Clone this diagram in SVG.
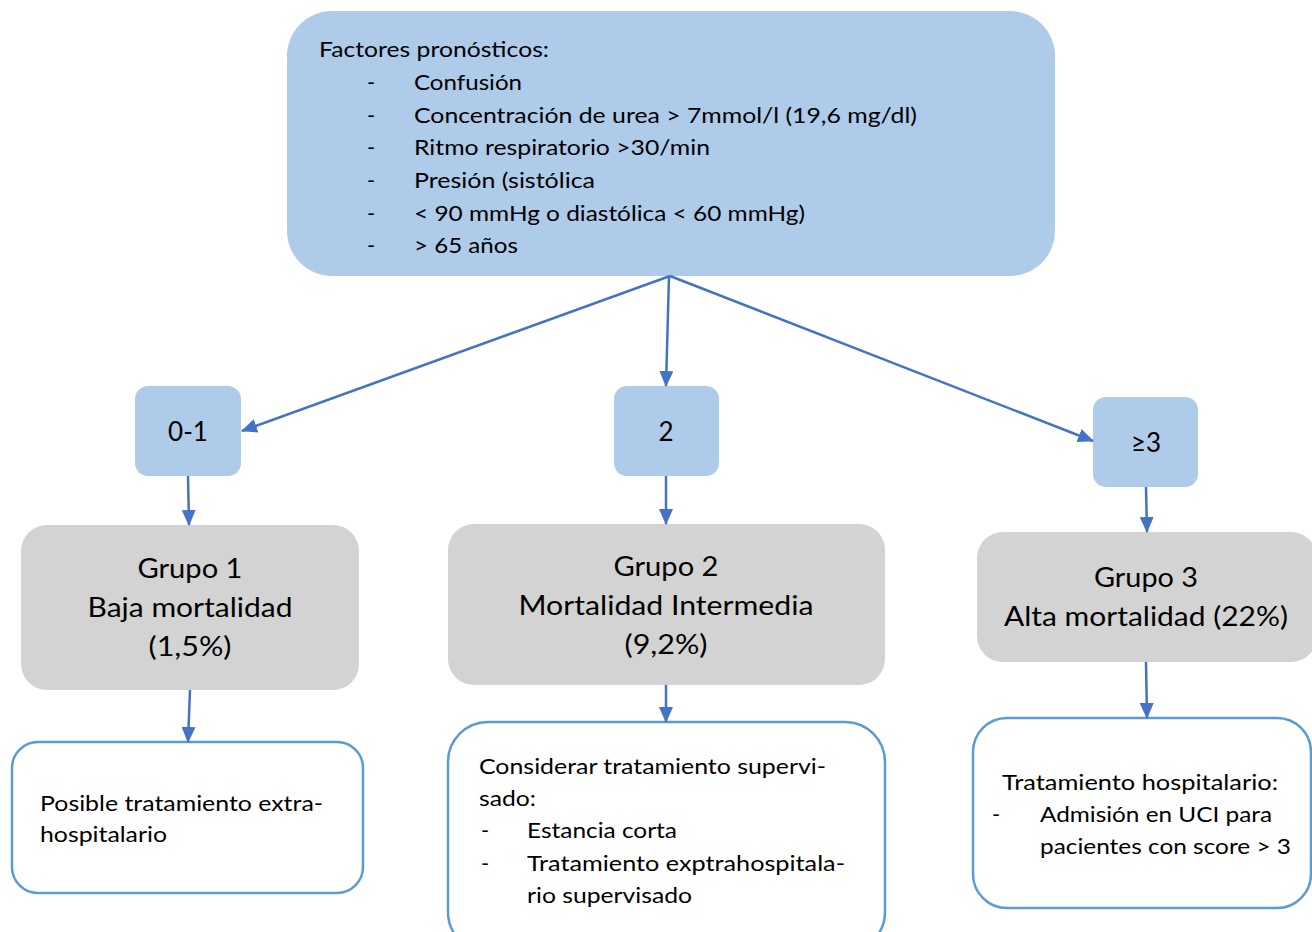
<svg xmlns="http://www.w3.org/2000/svg" width="1312" height="932" viewBox="0 0 1312 932">
  <style>
    text { font-family: Lato, "Liberation Sans", sans-serif; fill: #000; }
    .blue { fill: #aecbe9; }
    .grey { fill: #d3d3d3; }
    .outline { fill: #ffffff; stroke: #5b9bd5; stroke-width: 2.5; }
    .head { font-size: 22px; }
    .num { font-size: 26px; text-anchor: middle; }
    .grp { font-size: 27px; text-anchor: middle; }
    .body { font-size: 22px; }
    .edge { fill: none; stroke: #4472c4; stroke-width: 2.5; marker-end: url(#arrow); }
  </style>
  <defs>
    <marker id="arrow" markerUnits="userSpaceOnUse" markerWidth="16" markerHeight="14" refX="15" refY="7" orient="auto">
      <path d="M0,0 L16,7 L0,14 Z" fill="#4472c4"/>
    </marker>
  </defs>

  <rect width="1312" height="932" fill="#ffffff"/>

  <!-- prognostic factors -->
  <g id="factores">
    <rect class="blue" x="287" y="11" width="768" height="265" rx="45" ry="45"/>
    <text class="head" x="319" y="57" textLength="230" lengthAdjust="spacingAndGlyphs">Factores pronósticos:</text>
    <g class="head">
      <text x="367" y="90">-</text>
      <text x="367" y="123">-</text>
      <text x="367" y="155">-</text>
      <text x="367" y="188">-</text>
      <text x="367" y="221">-</text>
      <text x="367" y="253">-</text>
      <text x="414" y="90" textLength="108" lengthAdjust="spacingAndGlyphs">Confusión</text>
      <text x="414" y="123" textLength="503" lengthAdjust="spacingAndGlyphs">Concentración de urea &gt; 7mmol/l (19,6 mg/dl)</text>
      <text x="414" y="155" textLength="296" lengthAdjust="spacingAndGlyphs">Ritmo respiratorio &gt;30/min</text>
      <text x="414" y="188" textLength="181" lengthAdjust="spacingAndGlyphs">Presión (sistólica</text>
      <text x="414" y="221" textLength="391" lengthAdjust="spacingAndGlyphs">&lt; 90 mmHg o diastólica &lt; 60 mmHg)</text>
      <text x="414" y="253" textLength="104" lengthAdjust="spacingAndGlyphs">&gt; 65 años</text>
    </g>
  </g>

  <!-- score boxes -->
  <g id="score-0-1">
    <rect class="blue" x="135" y="386" width="106" height="90" rx="13" ry="13"/>
    <text class="num" x="188" y="441">0-1</text>
  </g>
  <g id="score-2">
    <rect class="blue" x="614" y="386" width="105" height="90" rx="13" ry="13"/>
    <text class="num" x="666" y="441">2</text>
  </g>
  <g id="score-3">
    <rect class="blue" x="1093" y="397" width="105" height="90" rx="13" ry="13"/>
    <text class="num" x="1146" y="452">≥3</text>
  </g>

  <!-- groups -->
  <g id="grupo-1">
    <rect class="grey" x="21" y="525" width="338" height="165" rx="26" ry="26"/>
    <text class="grp" x="190" y="578" textLength="105" lengthAdjust="spacingAndGlyphs">Grupo 1</text>
    <text class="grp" x="190" y="617" textLength="205" lengthAdjust="spacingAndGlyphs">Baja mortalidad</text>
    <text class="grp" x="190" y="656" textLength="83" lengthAdjust="spacingAndGlyphs">(1,5%)</text>
  </g>
  <g id="grupo-2">
    <rect class="grey" x="448" y="524" width="437" height="161" rx="26" ry="26"/>
    <text class="grp" x="666" y="576" textLength="105" lengthAdjust="spacingAndGlyphs">Grupo 2</text>
    <text class="grp" x="666" y="615" textLength="295" lengthAdjust="spacingAndGlyphs">Mortalidad Intermedia</text>
    <text class="grp" x="666" y="654" textLength="83" lengthAdjust="spacingAndGlyphs">(9,2%)</text>
  </g>
  <g id="grupo-3">
    <rect class="grey" x="977" y="532" width="340" height="130" rx="26" ry="26"/>
    <text class="grp" x="1146" y="587" textLength="104" lengthAdjust="spacingAndGlyphs">Grupo 3</text>
    <text class="grp" x="1146" y="626" textLength="284" lengthAdjust="spacingAndGlyphs">Alta mortalidad (22%)</text>
  </g>

  <!-- treatment boxes -->
  <g id="tratamiento-1">
    <rect class="outline" x="12" y="742" width="351" height="151" rx="26" ry="26"/>
    <text class="body" x="40" y="811" textLength="283" lengthAdjust="spacingAndGlyphs">Posible tratamiento extra-</text>
    <text class="body" x="40" y="842" textLength="127" lengthAdjust="spacingAndGlyphs">hospitalario</text>
  </g>
  <g id="tratamiento-2">
    <rect class="outline" x="448" y="722" width="437" height="230" rx="40" ry="40"/>
    <text class="body" x="479" y="774" textLength="347" lengthAdjust="spacingAndGlyphs">Considerar tratamiento supervi-</text>
    <text class="body" x="479" y="806" textLength="57" lengthAdjust="spacingAndGlyphs">sado:</text>
    <text class="body" x="481" y="838">-</text>
    <text class="body" x="527" y="838" textLength="150" lengthAdjust="spacingAndGlyphs">Estancia corta</text>
    <text class="body" x="481" y="871">-</text>
    <text class="body" x="527" y="871" textLength="318" lengthAdjust="spacingAndGlyphs">Tratamiento exptrahospitala-</text>
    <text class="body" x="527" y="903" textLength="165" lengthAdjust="spacingAndGlyphs">rio supervisado</text>
  </g>
  <g id="tratamiento-3">
    <rect class="outline" x="973" y="718" width="338" height="190" rx="34" ry="34"/>
    <text class="body" x="1002" y="790" textLength="276" lengthAdjust="spacingAndGlyphs">Tratamiento hospitalario:</text>
    <text class="body" x="992" y="822">-</text>
    <text class="body" x="1040" y="822" textLength="232" lengthAdjust="spacingAndGlyphs">Admisión en UCI para</text>
    <text class="body" x="1040" y="854" textLength="251" lengthAdjust="spacingAndGlyphs">pacientes con score &gt; 3</text>
  </g>

  <!-- connectors -->
  <g id="connectors">
    <line class="edge" x1="670" y1="276" x2="242" y2="431"/>
    <line class="edge" x1="669" y1="276" x2="666" y2="386"/>
    <line class="edge" x1="670" y1="276" x2="1093" y2="441"/>
    <line class="edge" x1="188" y1="476" x2="189" y2="525"/>
    <line class="edge" x1="666" y1="476" x2="666" y2="524"/>
    <line class="edge" x1="1146" y1="487" x2="1147" y2="532"/>
    <line class="edge" x1="190" y1="690" x2="188" y2="742"/>
    <line class="edge" x1="666" y1="685" x2="666" y2="722"/>
    <line class="edge" x1="1146" y1="662" x2="1147" y2="718"/>
  </g>
</svg>
